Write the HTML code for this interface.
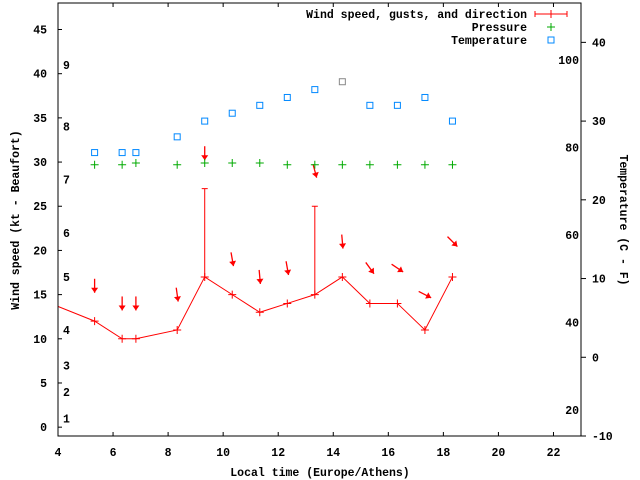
<!DOCTYPE html>
<html><head><meta charset="utf-8">
<style>
html,body{margin:0;padding:0;background:#fff;}
svg{display:block;font-family:"Liberation Mono","DejaVu Sans Mono",monospace;font-size:11.5px;font-weight:bold;}
</style></head>
<body>
<svg id="chart" width="640" height="480" viewBox="0 0 640 480" xmlns="http://www.w3.org/2000/svg">
<rect width="640" height="480" fill="#fff"/>
<g id="marks"></g>
<rect x="58" y="3" width="523" height="433" fill="none" stroke="#000" stroke-width="1"/>
<g id="axes"></g>
<text x="19" y="220" transform="rotate(-90 19 220)" text-anchor="middle">Wind speed (kt - Beaufort)</text>
<text x="320" y="476" text-anchor="middle">Local time (Europe/Athens)</text>
<text x="620" y="220" transform="rotate(90 620 220)" text-anchor="middle">Temperature (C - F)</text>
<g>
 <g>
  <text x="527" y="18" text-anchor="end">Wind speed, gusts, and direction</text>
  <line x1="535" y1="14" x2="567" y2="14" stroke="#f00"/><line x1="535" y1="11" x2="535" y2="17" stroke="#f00"/><line x1="567" y1="11" x2="567" y2="17" stroke="#f00"/><line x1="551" y1="10" x2="551" y2="18" stroke="#f00"/>
 </g>
 <g>
  <text x="527" y="31" text-anchor="end">Pressure</text>
  <line x1="547" y1="27" x2="555" y2="27" stroke="#0a0"/><line x1="551" y1="23" x2="551" y2="31" stroke="#0a0"/>
 </g>
 <g>
  <text x="527" y="44" text-anchor="end">Temperature</text>
  <rect x="548" y="37" width="6" height="6" fill="none" stroke="#08f"/>
 </g>
</g>
</svg>
<script>
const times = [3.33, 5.33, 6.33, 6.83, 8.33, 9.33, 10.33, 11.33, 12.33, 13.33, 14.33, 15.33, 16.33, 17.33, 18.33];
const windSpeed = [14.5, 12, 10, 10, 11, 17, 15, 13, 14, 15, 17, 14, 14, 11, 17];
const gusts = [null, null, null, null, null, 27, null, null, null, 25, null, null, null, null, null];
const windDir = [0, 0, 0, 0, 352, 0, 350, 355, 350, 345, 355, 324, 304, 297, 315];
const pressure = [null, 29.7, 29.7, 29.9, 29.7, 29.9, 29.9, 29.9, 29.7, 29.7, 29.7, 29.7, 29.7, 29.7, 29.7];
const tempC = [null, 26, 26, 26, 28, 30, 31, 32, 33, 34, 35, 32, 32, 33, 30];
const xTicks = [4, 6, 8, 10, 12, 14, 16, 18, 20, 22];
const yTicks = [0, 5, 10, 15, 20, 25, 30, 35, 40, 45];
const cTicks = [-10, 0, 10, 20, 30, 40];
const fTicks = [20, 40, 60, 80, 100];
const beaufortLevels = [1, 2, 3, 4, 5, 6, 7, 8, 9];
const beaufortKt = [1, 4, 7, 11, 17, 22, 28, 34, 41];

const L = 58, R = 581, T = 3, B = 436;
const X = t => L + (t - 4) / (23 - 4) * (R - L);
const Y = v => B - (v + 1) / 49 * (B - T);
const YC = c => B - (c + 10) / 55 * (B - T);
const NS = "http://www.w3.org/2000/svg";
function mk(tag, attrs, parent) {
  const e = document.createElementNS(NS, tag);
  for (const k in attrs) e.setAttribute(k, attrs[k]);
  parent.appendChild(e);
  return e;
}
const marks = document.getElementById("marks");
const axes = document.getElementById("axes");
const maxC = Math.max(...tempC.filter(v => v !== null));

// clip
const defs = mk("defs", {}, marks);
const cp = mk("clipPath", {id: "clip"}, defs);
mk("rect", {x: L, y: T, width: R - L, height: B - T}, cp);
const g = mk("g", {"clip-path": "url(#clip)"}, marks);

// x axis
xTicks.forEach(t => {
  const x = X(t);
  const tk = mk("line", {x1: x, y1: B, x2: x, y2: B - 4, stroke: "#000"}, axes);
  
  
  const tk2 = mk("line", {x1: x, y1: T, x2: x, y2: T + 4, stroke: "#000"}, axes);
  
  
  const lb = mk("text", {x: x, y: 456, "text-anchor": "middle"}, axes);
  lb.textContent = t;
  
  
});
// left y axis
yTicks.forEach(v => {
  const y = Y(v);
  const tk = mk("line", {x1: L, y1: y, x2: L + 4, y2: y, stroke: "#000"}, axes);
  
  
  const lb = mk("text", {x: 47, y: y + 4, "text-anchor": "end"}, axes);
  lb.textContent = v;
  
  
});
// beaufort
beaufortLevels.forEach((b, i) => {
  const lb = mk("text", {x: 63, y: Y(beaufortKt[i]) + 4}, axes);
  lb.textContent = b;
  
  
});
// right C axis
cTicks.forEach(c => {
  const y = YC(c);
  const tk = mk("line", {x1: R, y1: y, x2: R + 5, y2: y, stroke: "#000"}, axes);
  
  
  const lb = mk("text", {x: 592, y: y + 4}, axes);
  lb.textContent = c;
  
  
});
fTicks.forEach(f => {
  const c = (f - 32) * 5 / 9;
  const lb = mk("text", {x: 579, y: YC(c) + 4, "text-anchor": "end"}, axes);
  lb.textContent = f;
  
  
});

// wind line
const pts = times.map((t, i) => X(t) + "," + Y(windSpeed[i])).join(" ");
const line = mk("polyline", {points: pts, fill: "none", stroke: "#f00", "stroke-width": 1}, g);


times.forEach((t, i) => {
  const x = X(t), y = Y(windSpeed[i]);
  const p = mk("path", {d: `M${x-4} ${y}H${x+4}M${x} ${y-4}V${y+4}`, stroke: "#f00"}, g);
  
  
  if (gusts[i] !== null) {
    const yg = Y(gusts[i]);
    const e = mk("path", {d: `M${x} ${y}V${yg}M${x-3} ${yg}H${x+3}`, stroke: "#f00"}, g);
    
    
  }
  // direction arrow
  const top = Math.max(windSpeed[i], gusts[i] === null ? 0 : gusts[i]);
  const cy = Y(top + 4), cx = x;
  const a = windDir[i] * Math.PI / 180;
  const dx = -Math.sin(a), dy = Math.cos(a);
  const len = 14;
  const x1 = cx - dx * len / 2, y1 = cy - dy * len / 2, x2 = cx + dx * len / 2, y2 = cy + dy * len / 2;
  const sh = mk("line", {x1, y1, x2, y2, stroke: "#f00", "stroke-width": 1.3}, g);
  
  
  const px = -dy, py = dx;
  const hb = 5, hw = 3.5;
  const bx = x2 - dx * hb, by = y2 - dy * hb;
  const hd = mk("polygon", {points: `${x2},${y2} ${bx+px*hw},${by+py*hw} ${bx-px*hw},${by-py*hw}`, fill: "#f00"}, g);
  
  
});
// pressure
times.forEach((t, i) => {
  if (pressure[i] === null) return;
  const x = X(t), y = Y(pressure[i]);
  const p = mk("path", {d: `M${x-4} ${y}H${x+4}M${x} ${y-4}V${y+4}`, stroke: "#0a0"}, g);
  
  
});
// temperature
times.forEach((t, i) => {
  if (tempC[i] === null) return;
  const x = X(t), y = YC(tempC[i]);
  const r = mk("rect", {x: x - 3, y: y - 3, width: 6, height: 6, fill: "none", stroke: tempC[i] === maxC ? "#888" : "#08f"}, g);
  
  
});
</script>
</body></html>
